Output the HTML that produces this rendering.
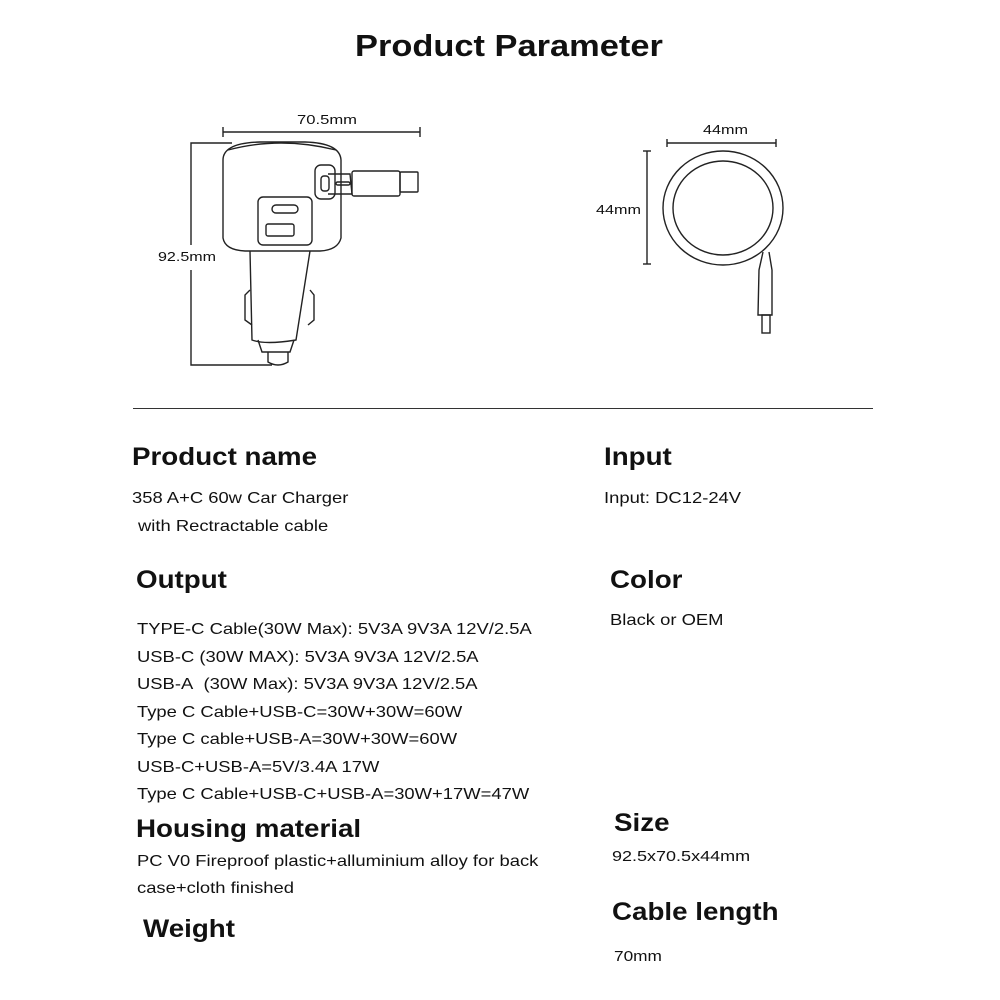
<!DOCTYPE html>
<html><head><style>
body{margin:0;width:1000px;height:1000px;background:#fff;position:relative;font-family:"Liberation Sans",Arial,sans-serif;color:#111;overflow:hidden}
.t{position:absolute;white-space:nowrap;transform-origin:0 0}
.h{font-weight:bold;font-size:25px;transform:scaleX(1.11)}
.p{font-size:16px;transform:scaleX(1.15)}
</style></head><body>
<div class="t" style="left:355px;top:28px;font-size:31px;font-weight:bold;transform:scaleX(1.11)">Product Parameter</div>
<svg width="1000" height="400" style="position:absolute;left:0;top:0" fill="none" stroke="#222" stroke-width="1.4">
<line x1="223" y1="132" x2="420" y2="132"/><line x1="223" y1="127" x2="223" y2="137"/><line x1="420" y1="127" x2="420" y2="137"/>
<text x="297" y="124" fill="#111" stroke="none" font-size="13" font-family="Liberation Sans" textLength="60" lengthAdjust="spacingAndGlyphs">70.5mm</text>
<polyline points="232,143 191,143 191,245"/><polyline points="191,270 191,365 272,365"/>
<text x="158" y="261" fill="#111" stroke="none" font-size="13" font-family="Liberation Sans" textLength="58" lengthAdjust="spacingAndGlyphs">92.5mm</text>
<path d="M223,160 Q223,143 260,142 L305,142 Q340,143 341,160 L341,238 Q338,250 320,251 L245,251 Q225,250 223,238 Z"/>
<path d="M228,150 Q280,136 336,150"/>
<rect x="258" y="197" width="54" height="48" rx="5"/>
<rect x="272" y="205" width="26" height="8" rx="4"/>
<rect x="266" y="224" width="28" height="12" rx="2"/>
<path d="M250,251 L252,340 Q265,345 296,340 L310,251"/>
<path d="M250,290 L245,295 L245,320 L252,325"/><path d="M310,290 L314,295 L314,320 L308,325"/>
<path d="M258,340 L262,352 L290,352 L294,340"/>
<path d="M268,352 L268,362 Q278,368 288,362 L288,352"/>
<rect x="315" y="165" width="20" height="34" rx="6"/>
<rect x="321" y="176" width="8" height="15" rx="3"/>
<path d="M328,174 L350,174 L352,194 L328,194"/>
<rect x="336" y="182" width="14" height="3" rx="1.5"/>
<rect x="352" y="171" width="48" height="25" rx="2"/>
<rect x="400" y="172" width="18" height="20" rx="1"/>
<line x1="667" y1="143" x2="776" y2="143"/><line x1="667" y1="139" x2="667" y2="147"/><line x1="776" y1="139" x2="776" y2="147"/>
<text x="703" y="134" fill="#111" stroke="none" font-size="13" font-family="Liberation Sans" textLength="45" lengthAdjust="spacingAndGlyphs">44mm</text>
<line x1="647" y1="151" x2="647" y2="264"/><line x1="643" y1="151" x2="651" y2="151"/><line x1="643" y1="264" x2="651" y2="264"/>
<text x="596" y="214" fill="#111" stroke="none" font-size="13" font-family="Liberation Sans" textLength="45" lengthAdjust="spacingAndGlyphs">44mm</text>
<ellipse cx="723" cy="208" rx="60" ry="57"/>
<ellipse cx="723" cy="208" rx="50" ry="47"/>
<path d="M763,252 L759,270 L758,315 L772,315 L772,270 L769,252"/>
<rect x="762" y="315" width="8" height="18"/>
</svg>
<div style="position:absolute;left:133px;top:408px;width:740px;height:1px;background:#333"></div>
<div class="t h" style="left:132px;top:443px">Product name</div>
<div class="t p" style="left:132px;top:490px">358 A+C 60w Car Charger</div>
<div class="t p" style="left:138px;top:518px">with Rectractable cable</div>
<div class="t h" style="left:604px;top:443px">Input</div>
<div class="t p" style="left:604px;top:490px">Input: DC12-24V</div>
<div class="t h" style="left:136px;top:566px">Output</div>
<div class="t h" style="left:610px;top:566px">Color</div>
<div class="t p" style="left:610px;top:612px">Black or OEM</div>
<div class="t p" style="left:137px;top:616px;line-height:27.5px">TYPE-C Cable(30W Max): 5V3A 9V3A 12V/2.5A<br>USB-C (30W MAX): 5V3A 9V3A 12V/2.5A<br>USB-A&nbsp; (30W Max): 5V3A 9V3A 12V/2.5A<br>Type C Cable+USB-C=30W+30W=60W<br>Type C cable+USB-A=30W+30W=60W<br>USB-C+USB-A=5V/3.4A 17W<br>Type C Cable+USB-C+USB-A=30W+17W=47W</div>
<div class="t h" style="left:136px;top:815px">Housing material</div>
<div class="t p" style="left:137px;top:848px;line-height:27px">PC V0 Fireproof plastic+alluminium alloy for back<br>case+cloth finished</div>
<div class="t h" style="left:143px;top:915px">Weight</div>
<div class="t h" style="left:614px;top:809px">Size</div>
<div class="t" style="left:612px;top:848px;font-size:15px;transform:scaleX(1.2)">92.5x70.5x44mm</div>
<div class="t h" style="left:612px;top:898px">Cable length</div>
<div class="t" style="left:614px;top:948px;font-size:15px;transform:scaleX(1.15)">70mm</div>
</body></html>
